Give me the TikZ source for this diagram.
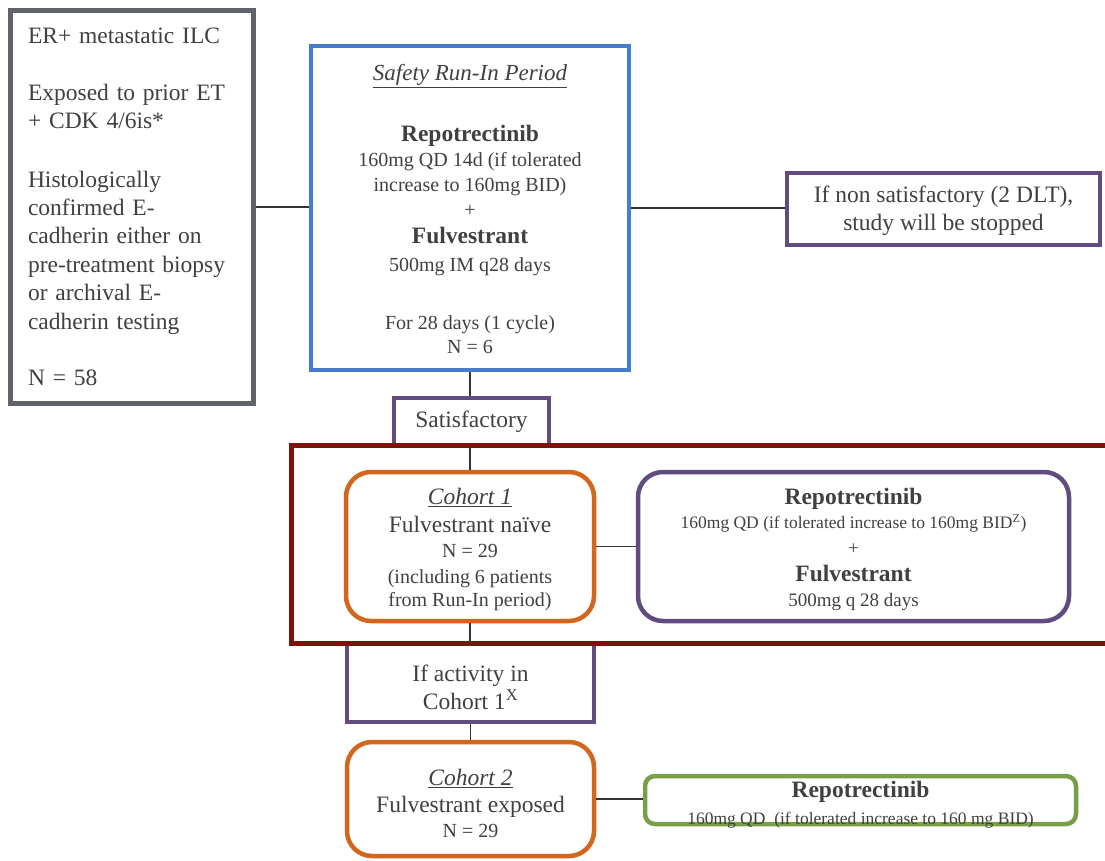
\documentclass[tikz,border=0pt]{standalone}
\usepackage{fontspec}
\setmainfont{Liberation Serif}
\definecolor{txtgray}{RGB}{64,64,64}
\definecolor{critgray}{RGB}{96,100,106}
\definecolor{runblue}{RGB}{68,126,204}
\definecolor{purp}{RGB}{96,76,126}
\definecolor{darkred}{RGB}{128,18,14}
\definecolor{orng}{RGB}{210,102,28}
\definecolor{grn}{RGB}{120,158,72}
\definecolor{connc}{RGB}{51,51,51}
\newcommand{\bigf}{\fontsize{23.5}{25}\selectfont}
\begin{document}
\begin{tikzpicture}[x=1pt,y=-1pt,
  boxbase/.style={draw, fill=white, inner sep=0pt},
  graybox/.style={boxbase, draw=critgray, line width=5pt},
  bluebox/.style={boxbase, draw=runblue, line width=4.5pt},
  purpbox/.style={boxbase, draw=purp, line width=4pt},
  purpround/.style={boxbase, draw=purp, line width=4.5pt, rounded corners=25pt},
  orngbox/.style={boxbase, draw=orng, line width=4.5pt, rounded corners=25pt},
  grnbox/.style={boxbase, draw=grn, line width=4.5pt, rounded corners=10pt},
  redframe/.style={draw=darkred, line width=5.5pt, inner sep=0pt},
  txt/.style={text=txtgray, inner sep=0pt},
  conn/.style={draw=connc, line width=1.5pt}]
\useasboundingbox (0,0) rectangle (1105,860);
\fill[white] (0,0) rectangle (1105,860);

% boxes
\node[graybox, minimum width=243pt, minimum height=393pt] (crit) at (132,207) {};
\node[bluebox, minimum width=318pt, minimum height=324pt] (run) at (470,208) {};
\node[purpbox, minimum width=313pt, minimum height=72pt] (nonsat) at (943.5,209) {};
\node[purpbox, minimum width=155pt, minimum height=48pt] (satisf) at (471.5,422) {};
\node[orngbox, minimum width=248pt, minimum height=149pt] (c1) at (470,546.5) {};
\node[purpround, minimum width=431pt, minimum height=149pt] (trt1) at (853.5,546.5) {};
\node[purpbox, minimum width=247pt, minimum height=78pt] (ifact) at (470.5,683) {};
\node[orngbox, minimum width=247pt, minimum height=114pt] (c2) at (470.5,799) {};
\node[grnbox, minimum width=431pt, minimum height=48pt] (trt2) at (860.5,800) {};

% texts
\node[txt, text width=208pt, align=left, font=\fontsize{23.5}{28.4}\selectfont] (critT) at (crit.center)
  {ER+ metastatic ILC\\[28.4pt] Exposed to prior ET\\ + CDK 4/6is*\\[30pt] Histologically\\ confirmed E-\\ cadherin either on\\ pre-treatment biopsy\\ or archival E-\\ cadherin testing\\[28.4pt] N = 58};

\node[txt, align=center, font=\fontsize{20}{25}\selectfont] (runT) at ([yshift=-1pt]run.center)
  {{\fontsize{23}{25}\selectfont\itshape\underline{Safety Run-In Period}}\\[36pt]
   {\bigf\bfseries Repotrectinib}\\
   160mg QD 14d (if tolerated\\
   increase to 160mg BID)\\
   +\\[2pt]
   {\bigf\bfseries Fulvestrant}\\[3pt]
   500mg IM q28 days\\[33pt]
   For 28 days (1 cycle)\\[-1pt]
   N = 6};

\node[txt, align=center, font=\fontsize{23.5}{28}\selectfont] (nonsatT) at ([yshift=-2pt]nonsat.center)
  {If non satisfactory (2 DLT),\\ study will be stopped};

\node[txt, font=\bigf] (satisfT) at (satisf.center) {Satisfactory};

\node[txt, align=center, font=\fontsize{20}{25}\selectfont] (c1T) at ([yshift=-3pt]c1.center)
  {{\bigf\itshape\underline{Cohort 1}}\\[3pt]
   {\bigf Fulvestrant naïve}\\
   N = 29\\[1pt]
   (including 6 patients\\[-2pt]
   from Run-In period)};

\node[txt, align=center, font=\fontsize{19}{25}\selectfont] (trt1T) at ([yshift=-3pt]trt1.center)
  {{\bigf\bfseries Repotrectinib}\\[-1pt]
   {\fontsize{17.5}{25}\selectfont 160mg QD (if tolerated increase to 160mg BID\textsuperscript{Z})}\\[1pt]
   +\\[2pt]
   {\bigf\bfseries Fulvestrant}\\
   500mg q 28 days};

\node[txt, align=center, font=\fontsize{23.5}{28}\selectfont] (ifactT) at ([yshift=-4pt]ifact.center)
  {If activity in\\ Cohort 1\textsuperscript{X}};

\node[txt, align=center, font=\fontsize{20}{25}\selectfont] (c2T) at ([yshift=-4pt]c2.center)
  {{\bigf\itshape\underline{Cohort 2}}\\[2pt]
   {\bigf Fulvestrant exposed}\\
   N = 29};

\node[txt, align=center, font=\fontsize{17.5}{27}\selectfont] (trt2T) at ([yshift=-5pt]trt2.center)
  {{\bigf\bfseries Repotrectinib}\\
   160mg QD~~(if tolerated increase to 160 mg BID)};

% connectors
\draw[conn] (crit.east) -- (crit.east -| run.west);
\draw[conn] (run.east) -- (run.east -| nonsat.west);
\draw[conn] (run.south) -- (run.south |- satisf.north);
\draw[conn] (c1.north |- satisf.south) -- (c1.north);
\draw[conn] (c1.east) -- (c1.east -| trt1.west);
\draw[conn] (c1.south) -- (c1.south |- ifact.north);
\draw[conn] (ifact.south -| c2.north) -- (c2.north);
\draw[conn] (c2.east) -- (c2.east -| trt2.west);

% cohort 1 frame
\node[redframe, minimum width=830pt, minimum height=198pt] (frame1) at (706.5,544.5) {};
\end{tikzpicture}
\end{document}
